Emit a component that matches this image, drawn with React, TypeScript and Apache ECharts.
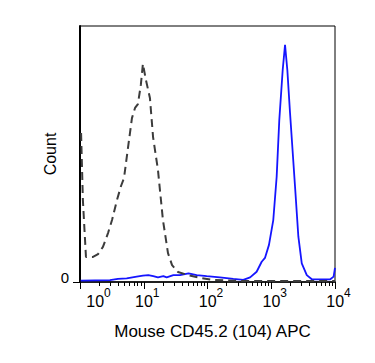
import React, { useEffect, useRef } from "react";
import * as echarts from "echarts";

// Fluorescence (linear value, log axis) and count (% of max scale)
const isotypeX = [1.04, 1.11, 1.24, 1.6, 1.92, 2.29, 2.75, 3.18, 3.8, 4.4, 4.9, 5.65, 6.53, 7.3, 8.1, 9.0, 9.7, 10.8, 12.5, 14, 16.7, 20, 24, 27.8, 34.5, 49.5, 76, 122, 324, 2800, 10000];
const isotypeY = [58.2, 32, 9.8, 9.8, 10.9, 13.7, 19.1, 24.2, 32, 37.5, 40.6, 52.3, 64, 68, 69.5, 77, 85.2, 79, 71.9, 56.6, 43.8, 24.2, 11.3, 6.6, 3.9, 2.7, 1.6, 0.8, 0.4, 0.4, 0.4];

const stainedX = [1.025, 1.72, 2.95, 3.94, 5.4, 7.75, 9.7, 11.8, 14.1, 16.7, 20.3, 22.9, 29.1, 37, 50.4, 67.6, 97, 156, 254, 364, 466, 590, 708, 797, 921, 1076, 1216, 1337, 1512, 1645, 1788, 1971, 2362, 2663, 3010, 3608, 4330, 5850, 8430, 9510, 10000];
const stainedY = [0.5, 0.6, 0.7, 1.2, 1.4, 2.1, 2.5, 2.7, 2.3, 1.8, 2.3, 1.8, 2.7, 2.7, 3.4, 2.7, 2.3, 1.8, 1.2, 0.8, 1.8, 4, 7.9, 9.4, 14.5, 24.2, 41.1, 63.3, 82.8, 92.6, 82.8, 66, 37.2, 17.7, 7.3, 2.7, 1.05, 1, 1.05, 2.1, 5.5];

const majorTicks = [1, 10, 100, 1000, 10000];
const majorExponents = ["0", "1", "2", "3", "4"];
const minorTicks = [2, 3, 4, 5, 6, 7, 8, 9, 20, 30, 40, 50, 60, 70, 80, 90, 200, 300, 400, 500, 600, 700, 800, 900, 2000, 3000, 4000, 5000, 6000, 7000, 8000, 9000];
const yTicks = [0];

const xTitle = "Mouse CD45.2 (104) APC";
const yTitle = "Count";

const FONT = 'Arial, "Liberation Sans", sans-serif';

export default function App() {
  const ref = useRef<HTMLDivElement>(null);
  useEffect(() => {
    document.body.style.margin = "0";
    const chart = echarts.init(ref.current!, null, { renderer: "svg" });
    const pairs = (xs: number[], ys: number[]) => xs.map((x, i) => [x, ys[i]]);
    chart.setOption({
      animation: false,
      backgroundColor: "#fff",
      textStyle: { fontFamily: FONT },
      grid: {
        left: 80,
        right: 40,
        top: 26,
        bottom: 81,
        show: true,
        borderColor: "#000",
        borderWidth: 1,
        outerBoundsMode: "none",
      },
      xAxis: [
        {
          type: "log",
          logBase: 10,
          min: 1,
          max: 10000,
          position: "bottom",
          name: xTitle,
          nameLocation: "middle",
          nameGap: 41,
          nameTextStyle: { fontSize: 17, color: "#000", fontFamily: FONT, padding: [0, 0, 0, 10] },
          axisLine: { show: true, lineStyle: { color: "#000", width: 1.5 } },
          axisTick: { show: true, customValues: majorTicks, length: 7, lineStyle: { color: "#000", width: 1 } },
          axisLabel: {
            show: true,
            customValues: majorTicks,
            margin: 5,
            color: "#000",
            formatter: (v: number) => {
              const i = majorTicks.indexOf(Math.round(v));
              const e = i >= 0 ? majorExponents[i] : "";
              return i === 0 ? `{b0|10}{s|${e}}` : `{b|10}{s|${e}}`;
            },
            rich: {
              b: { fontSize: 16, fontFamily: FONT, color: "#000", padding: [0, 0, 0, 7], lineHeight: 22, verticalAlign: "bottom" },
              b0: { fontSize: 16, fontFamily: FONT, color: "#000", padding: [0, 0, 0, 37], lineHeight: 22, verticalAlign: "bottom" },
              s: { fontSize: 12, fontFamily: FONT, color: "#000", lineHeight: 22, verticalAlign: "top" },
            },
          },
          splitLine: { show: false },
        },
        {
          type: "log",
          logBase: 10,
          min: 1,
          max: 10000,
          position: "bottom",
          axisLine: { show: false },
          axisTick: { show: true, customValues: minorTicks, length: 4, lineStyle: { color: "#000", width: 1 } },
          axisLabel: { show: false },
          splitLine: { show: false },
        },
      ],
      yAxis: {
        type: "value",
        min: 0,
        max: 100,
        name: yTitle,
        nameLocation: "middle",
        nameGap: 22,
        nameMoveOverlap: false,
        nameTextStyle: { fontSize: 16, color: "#000", fontFamily: FONT },
        axisLine: { show: true, lineStyle: { color: "#000", width: 2 } },
        axisTick: { show: true, customValues: yTicks, length: 7, lineStyle: { color: "#000" } },
        axisLabel: { show: true, customValues: yTicks, fontSize: 15, color: "#000", margin: 11, verticalAlign: "bottom", lineHeight: 10 },
        splitLine: { show: false },
      },
      series: [
        {
          type: "line",
          xAxisIndex: 0,
          data: pairs(stainedX, stainedY),
          showSymbol: false,
          symbol: "none",
          smooth: false,
          lineStyle: { color: "#1515ff", width: 1.8 },
          z: 2,
        },
        {
          type: "line",
          xAxisIndex: 0,
          data: pairs(isotypeX, isotypeY),
          showSymbol: false,
          symbol: "none",
          smooth: false,
          lineStyle: { color: "#3c3c3c", width: 2, type: [8, 5] },
          z: 3,
        },
      ],
    });
    return () => chart.dispose();
  }, []);
  return <div ref={ref} style={{ width: 375, height: 363 }} />;
}
